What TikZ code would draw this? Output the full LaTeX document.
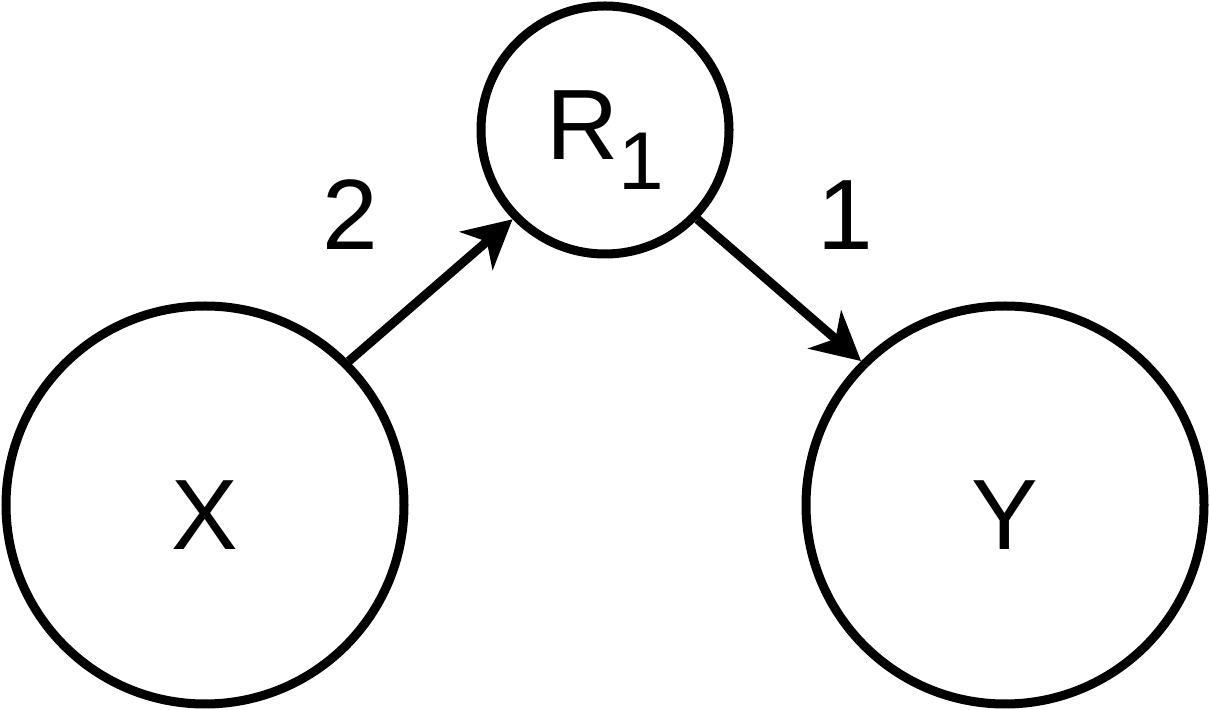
\documentclass[tikz,border=0pt]{standalone}
\usepackage{fontspec}
\setmainfont{Liberation Sans}
\usetikzlibrary{positioning,arrows.meta}

\begin{document}
\begin{tikzpicture}[x=0.5pt, y=-0.5pt, line width=4.5pt,
  >={Stealth[length=24pt, width=25pt, inset=7pt]},
  font=\fontsize{50}{60}\selectfont,
  var/.style={circle, draw, inner sep=0pt, text height=45pt}]
  \useasboundingbox (0,0) rectangle (1210,710);
  % variables
  \node[var, minimum size=199pt] (X) at (205,505) {X};
  \node[var, minimum size=199pt] (Y) at (1005,505) {Y};
  \node[var, minimum size=124pt] (R1) at (605,130)
        {R\raisebox{-15pt}{\fontsize{41}{48}\selectfont 1}};
  % edges and weights
  \draw[->] (X.45) -- (R1.224);
  \draw[->] (R1.316) -- (Y.135);
  \node (w2) at (350,215) {2};
  \node (w1) at (845,215) {1};
\end{tikzpicture}
\end{document}
